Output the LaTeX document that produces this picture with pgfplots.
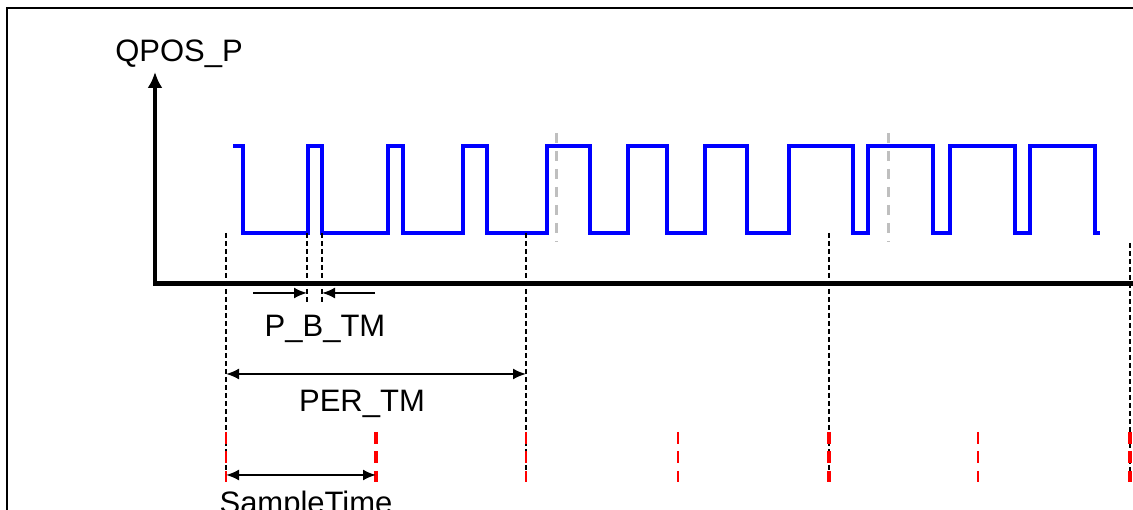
\documentclass[border=0pt]{standalone}
\usepackage{fontspec}
\setmainfont{Liberation Sans}
\usepackage{pgfplots}
\pgfplotsset{compat=1.18}
\usetikzlibrary{arrows.meta}
\newcommand{\lbl}{\fontsize{31bp}{37bp}\selectfont}
\begin{document}
\begin{tikzpicture}
\begin{axis}[x=1bp,y=1bp,xmin=0,xmax=1133,ymin=0,ymax=510,hide axis,
  clip=false]
% frame
\addplot[black,line width=2bp] coordinates {(7,-10) (7,502) (1150,502)};
% signal
\addplot[blue,line width=3.3bp,line join=miter,const plot] coordinates {
(233,364)(243,364)(243,277)(308,277)(308,364)(322,364)(322,277)(388,277)(388,364)
(403,364)(403,277)(463,277)(463,364)(487,364)(487,277)(547,277)(547,364)(590,364)
(590,277)(628,277)(628,364)(667,364)(667,277)(705,277)(705,364)(747,364)(747,277)
(789,277)(789,364)(853,364)(853,277)(868,277)(868,364)(933,364)(933,277)(950,277)
(950,364)(1015,364)(1015,277)(1030,277)(1030,364)(1095,364)(1095,277)(1100,277)};
% gray dashed
\addplot[black!25,line width=3bp,dash pattern=on 10bp off 8bp] coordinates {(556,377) (556,268)};
\addplot[black!25,line width=3bp,dash pattern=on 10bp off 8bp] coordinates {(888,377) (888,268)};
% black dashed guides
\addplot[black,line width=1.8bp,dash pattern=on 5bp off 3bp] coordinates {(226,277) (226,28)};
\addplot[black,line width=1.8bp,dash pattern=on 5bp off 3bp] coordinates {(307,277) (307,207)};
\addplot[black,line width=1.8bp,dash pattern=on 5bp off 3bp] coordinates {(322,277) (322,207)};
\addplot[black,line width=1.8bp,dash pattern=on 5bp off 3bp] coordinates {(526,277) (526,28)};
\addplot[black,line width=1.8bp,dash pattern=on 5bp off 3bp] coordinates {(829,277) (829,28)};
\addplot[black,line width=1.8bp,dash pattern=on 5bp off 3bp] coordinates {(1130,267) (1130,28)};
% red sample markers
\addplot[red,line width=2bp,dash pattern=on 12bp off 7.5bp] coordinates {(226,78) (226,28)};
\addplot[red,line width=3.5bp,dash pattern=on 12bp off 7.5bp] coordinates {(376,78) (376,28)};
\addplot[red,line width=2bp,dash pattern=on 12bp off 7.5bp] coordinates {(526,78) (526,28)};
\addplot[red,line width=2bp,dash pattern=on 12bp off 7.5bp] coordinates {(678,78) (678,28)};
\addplot[red,line width=3.5bp,dash pattern=on 12bp off 7.5bp] coordinates {(829,78) (829,28)};
\addplot[red,line width=2bp,dash pattern=on 12bp off 7.5bp] coordinates {(978,78) (978,28)};
\addplot[red,line width=3.5bp,dash pattern=on 12bp off 7.5bp] coordinates {(1130,78) (1130,28)};
% axes
\addplot[black,line width=5bp] coordinates {(153,226) (1150,226)};
\addplot[black,line width=4bp,-{Latex[length=16bp,width=15bp]}] coordinates {(155,224) (155,438)};
% arrows
\addplot[black,line width=2bp,-{Latex[length=13bp,width=11bp]}] coordinates {(253,217) (307,217)};
\addplot[black,line width=2bp,-{Latex[length=13bp,width=11bp]}] coordinates {(375,217) (322,217)};
\addplot[black,line width=2bp,{Latex[length=13bp,width=11bp]}-{Latex[length=13bp,width=11bp]}] coordinates {(226,136) (526,136)};
\addplot[black,line width=2bp,{Latex[length=13bp,width=11bp]}-{Latex[length=13bp,width=11bp]}] coordinates {(226,35) (376,35)};
% labels
\node[anchor=base,inner sep=0pt] at (axis cs:179,448) {\lbl QPOS\_P};
\node[anchor=base,inner sep=0pt] at (axis cs:325,173) {\lbl P\_B\_TM};
\node[anchor=base,inner sep=0pt] at (axis cs:362,98) {\lbl PER\_TM};
\node[anchor=base,inner sep=0pt] at (axis cs:306,-4) {\lbl SampleTime};
\end{axis}
\pgfresetboundingbox
\path[use as bounding box] (current axis.south west) rectangle (current axis.north east);
\end{tikzpicture}
\end{document}
